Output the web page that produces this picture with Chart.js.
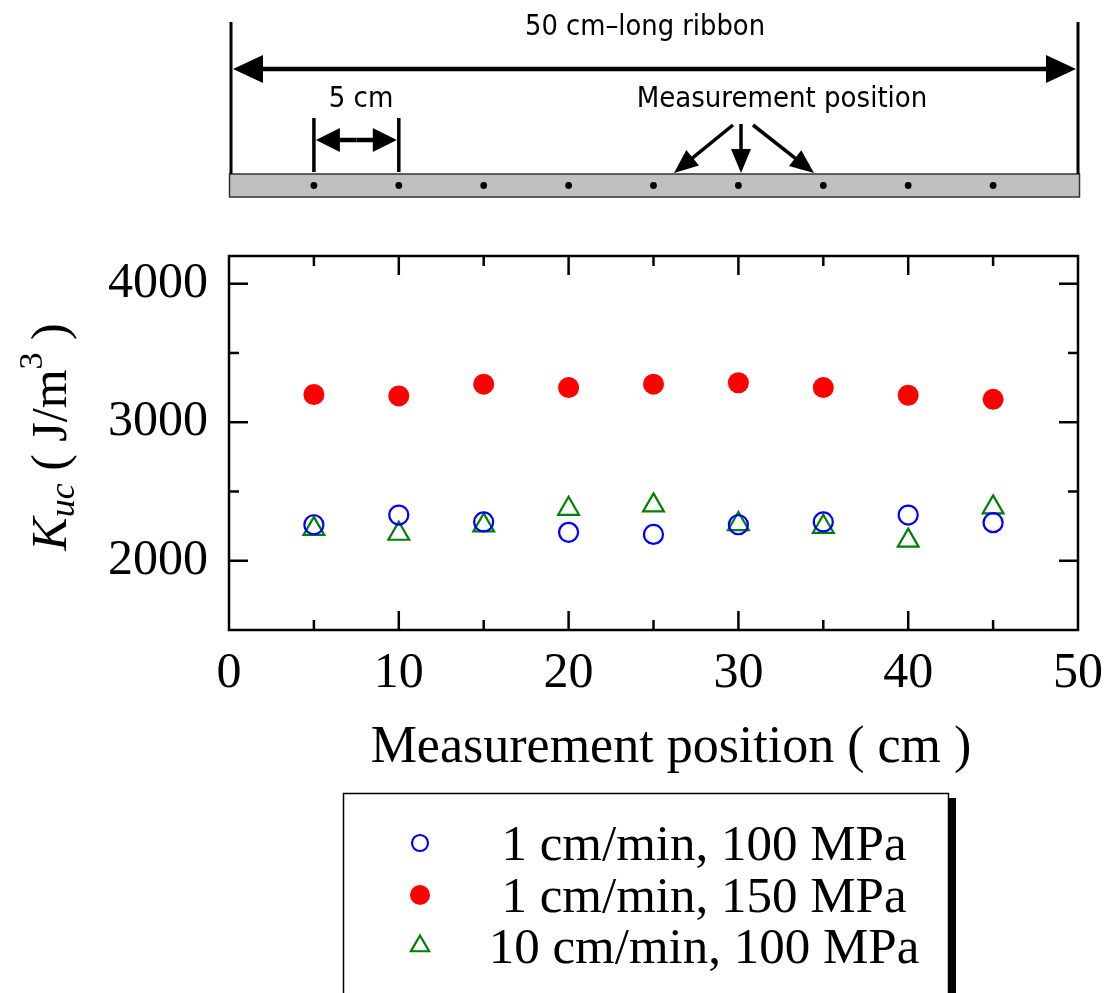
<!DOCTYPE html>
<html lang="en">
<head>
<meta charset="UTF-8">
<title>Kuc vs measurement position</title>
<script src="https://cdn.jsdelivr.net/npm/chart.js"></script>
<style>
    body { margin: 0; padding: 0; background: #fff; }
    #wrap { width: 1107px; height: 993px; }
</style>
</head>
<body>
<div id="wrap"><canvas id="chart" width="1107" height="993"></canvas></div>
<script>
    // measurement positions along the ribbon (cm)
    const positions = [5, 10, 15, 20, 25, 30, 35, 40, 45];
    // Kuc (J/m^3) for each condition
    const kuc1cm100 = [2260, 2330, 2280, 2205, 2190, 2260, 2280, 2330, 2275];
    const kuc1cm150 = [3200, 3190, 3275, 3250, 3275, 3285, 3250, 3195, 3165];
    const kuc10cm100 = [2230, 2195, 2255, 2375, 2400, 2265, 2245, 2145, 2385];
    const seriesLabels = ['1 cm/min, 100 MPa', '1 cm/min, 150 MPa', '10 cm/min, 100 MPa'];
    const xLabelTicks = [0, 10, 20, 30, 40, 50];
    const yLabelTicks = [2000, 3000, 4000];

    const serif = '"Liberation Serif", "Times New Roman", serif';
    const gothic = '"Liberation Sans Narrow", "DejaVu Sans Condensed", "Liberation Sans", sans-serif';

    const toPoints = ys => positions.map((x, i) => ({ x: x, y: ys[i] }));

    function arrowHead(ctx, fx, fy, tx, ty, len, half) {
        const a = Math.atan2(ty - fy, tx - fx);
        const bx = tx - Math.cos(a) * len, by = ty - Math.sin(a) * len;
        ctx.beginPath();
        ctx.moveTo(tx, ty);
        ctx.lineTo(bx + Math.sin(a) * half, by - Math.cos(a) * half);
        ctx.lineTo(bx - Math.sin(a) * half, by + Math.cos(a) * half);
        ctx.closePath();
        ctx.fill();
    }

    function arrow(ctx, fx, fy, tx, ty, len, half, lw) {
        const a = Math.atan2(ty - fy, tx - fx);
        ctx.lineWidth = lw;
        ctx.beginPath();
        ctx.moveTo(fx, fy);
        ctx.lineTo(tx - Math.cos(a) * len * 0.8, ty - Math.sin(a) * len * 0.8);
        ctx.stroke();
        arrowHead(ctx, fx, fy, tx, ty, len, half);
    }

    function line(ctx, x1, y1, x2, y2, lw) {
        ctx.lineWidth = lw;
        ctx.beginPath();
        ctx.moveTo(x1, y1);
        ctx.lineTo(x2, y2);
        ctx.stroke();
    }

    // ribbon sketch above the plot, dots placed with the x scale
    const ribbonSketch = {
        id: 'ribbonSketch',
        afterDraw(chart) {
            const ctx = chart.ctx;
            const xs = chart.scales.x;
            ctx.save();

            ctx.fillStyle = '#c0c0c0';
            ctx.fillRect(229.5, 174, 850, 23);
            ctx.strokeStyle = '#333';
            ctx.lineWidth = 1.5;
            ctx.strokeRect(229.5, 174, 850, 23);

            ctx.fillStyle = '#000';
            ctx.strokeStyle = '#000';
            positions.forEach(p => {
                ctx.beginPath();
                ctx.arc(xs.getPixelForValue(p), 185.5, 3.4, 0, Math.PI * 2);
                ctx.fill();
            });

            // end bars and full-length arrow
            line(ctx, 231, 22, 231, 174, 3);
            line(ctx, 1078, 22, 1078, 174, 3);
            arrow(ctx, 650, 69, 233, 69, 30, 14, 4.5);
            arrow(ctx, 650, 69, 1076, 69, 30, 14, 4.5);

            // 5 cm spacing marker
            const p5 = xs.getPixelForValue(5), p10 = xs.getPixelForValue(10);
            line(ctx, p5, 118, p5, 172, 3.5);
            line(ctx, p10, 118, p10, 172, 3.5);
            arrow(ctx, (p5 + p10) / 2, 140, p5 + 2, 140, 24, 12, 4.5);
            arrow(ctx, (p5 + p10) / 2, 140, p10 - 2, 140, 24, 12, 4.5);

            // arrows pointing at measurement spots
            arrow(ctx, 733, 125, 674, 173, 24, 10, 3.5);
            arrow(ctx, 741, 124, 741, 173, 24, 10, 3.5);
            arrow(ctx, 753, 125, 814, 173, 24, 10, 3.5);

            ctx.font = '29px ' + gothic;
            ctx.textAlign = 'center';
            ctx.textBaseline = 'alphabetic';
            ctx.fillText('50 cm\u2013long ribbon', 645, 35, 240);
            ctx.fillText('5 cm', 361, 107, 66);
            ctx.fillText('Measurement position', 782, 107, 294);
            ctx.restore();
        }
    };

    // frame, inward tick marks, axis titles and legend box
    const frameAndLegend = {
        id: 'frameAndLegend',
        afterDatasetsDraw(chart) {
            const ctx = chart.ctx;
            const a = chart.chartArea;
            const xs = chart.scales.x, ys = chart.scales.y;
            ctx.save();
            ctx.strokeStyle = '#000';
            ctx.lineWidth = 2.5;
            ctx.strokeRect(a.left, a.top, a.right - a.left, a.bottom - a.top);

            for (let v = 5; v < 50; v += 5) {
                const px = xs.getPixelForValue(v);
                const len = v % 10 === 0 ? 19 : 10;
                line(ctx, px, a.bottom, px, a.bottom - len, 2.5);
                line(ctx, px, a.top, px, a.top + len, 2.5);
            }
            for (let v = 2000; v <= 4000; v += 500) {
                const py = ys.getPixelForValue(v);
                const len = v % 1000 === 0 ? 19 : 10;
                line(ctx, a.left, py, a.left + len, py, 2.5);
                line(ctx, a.right, py, a.right - len, py, 2.5);
            }

            // x title
            ctx.fillStyle = '#000';
            ctx.font = '52px ' + serif;
            ctx.textAlign = 'center';
            ctx.textBaseline = 'alphabetic';
            ctx.fillText('Measurement position ( cm )', 671, 762);

            // y title: K_uc ( J/m^3 )
            const parts = [
                { t: 'K', f: 'italic 50px ' + serif, dy: 0 },
                { t: 'uc', f: 'italic 36px ' + serif, dy: 8 },
                { t: ' ( J/m', f: '50px ' + serif, dy: 0 },
                { t: '3', f: '34px ' + serif, dy: -24 },
                { t: ' )', f: '50px ' + serif, dy: 0 }
            ];
            let total = 0;
            parts.forEach(p => { ctx.font = p.f; p.w = ctx.measureText(p.t).width; total += p.w; });
            ctx.translate(66, 437);
            ctx.rotate(-Math.PI / 2);
            ctx.textAlign = 'left';
            let cx = -total / 2;
            parts.forEach(p => { ctx.font = p.f; ctx.fillText(p.t, cx, p.dy); cx += p.w; });
            ctx.setTransform(1, 0, 0, 1, 0, 0);

            // legend box with drop shadow
            ctx.fillStyle = '#000';
            ctx.fillRect(949, 798, 7, 200);
            ctx.fillStyle = '#fff';
            ctx.fillRect(343.5, 793.5, 605, 210);
            ctx.lineWidth = 1.5;
            ctx.strokeRect(343.5, 793.5, 605, 210);

            const rowY = [843, 895, 946];
            const markerR = [8, 10, 10.5];
            chart.data.datasets.forEach((ds, i) => {
                ctx.save();
                ctx.lineWidth = ds.borderWidth;
                ctx.strokeStyle = ds.borderColor;
                ctx.fillStyle = ds.backgroundColor;
                Chart.helpers.drawPoint(ctx, {
                    pointStyle: ds.pointStyle,
                    radius: markerR[i],
                    rotation: 0,
                    borderWidth: ds.borderWidth
                }, 420, rowY[i]);
                ctx.restore();
                ctx.fillStyle = '#000';
                ctx.font = '51px ' + serif;
                ctx.textAlign = 'center';
                ctx.textBaseline = 'alphabetic';
                ctx.fillText(seriesLabels[i], 704, rowY[i] + 17);
            });
            ctx.restore();
        }
    };

    new Chart(document.getElementById('chart'), {
        type: 'scatter',
        data: {
            datasets: [
                {
                    label: seriesLabels[0],
                    data: toPoints(kuc1cm100),
                    pointStyle: 'circle',
                    pointRadius: 9.5,
                    borderWidth: 2.2,
                    borderColor: '#0000ff',
                    backgroundColor: 'rgba(0,0,0,0)'
                },
                {
                    label: seriesLabels[1],
                    data: toPoints(kuc1cm150),
                    pointStyle: 'circle',
                    pointRadius: 10.5,
                    borderWidth: 0,
                    borderColor: '#ff0000',
                    backgroundColor: '#ff0000'
                },
                {
                    label: seriesLabels[2],
                    data: toPoints(kuc10cm100),
                    pointStyle: 'triangle',
                    pointRadius: 12,
                    borderWidth: 2.2,
                    borderColor: '#008000',
                    backgroundColor: 'rgba(0,0,0,0)'
                }
            ]
        },
        options: {
            responsive: false,
            animation: false,
            layout: { padding: { top: 256, right: 29, left: 0, bottom: 0 } },
            plugins: {
                legend: { display: false },
                tooltip: { enabled: false }
            },
            scales: {
                x: {
                    type: 'linear',
                    min: 0,
                    max: 50,
                    grid: { display: false },
                    border: { display: false },
                    afterBuildTicks(scale) { scale.ticks = xLabelTicks.map(v => ({ value: v })); },
                    ticks: {
                        padding: 6,
                        color: '#000',
                        font: { family: serif, size: 50 },
                        maxRotation: 0,
                        autoSkip: false,
                        callback: v => String(v)
                    },
                    afterFit(scale) {
                        scale.height = 363;
                        scale.paddingLeft = 0;
                        scale.paddingRight = 0;
                    }
                },
                y: {
                    type: 'linear',
                    min: 1500,
                    max: 4200,
                    grid: { display: false },
                    border: { display: false },
                    afterBuildTicks(scale) { scale.ticks = yLabelTicks.map(v => ({ value: v })); },
                    ticks: {
                        padding: 13,
                        color: '#000',
                        autoSkip: false,
                        font: { family: serif, size: 50 },
                        callback: v => String(v)
                    },
                    afterFit(scale) { scale.width = 229; }
                }
            }
        },
        plugins: [ribbonSketch, frameAndLegend]
    });
</script>
</body>
</html>
